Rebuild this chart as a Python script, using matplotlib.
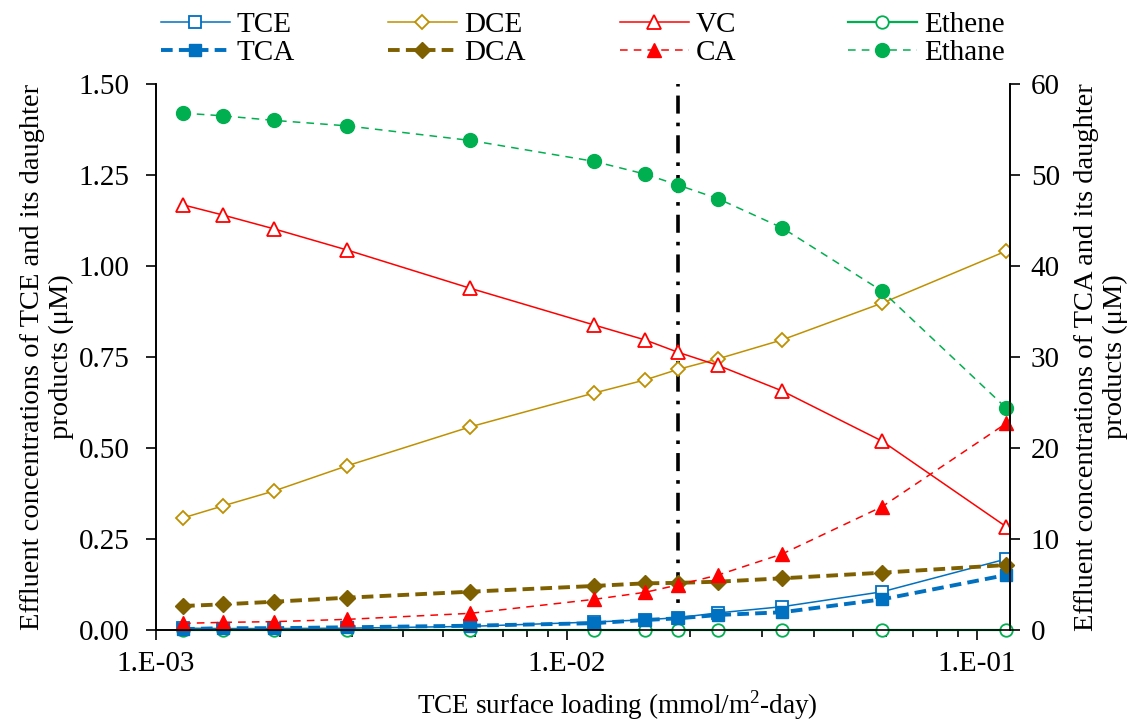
import numpy as np
import matplotlib
matplotlib.use("Agg")
import matplotlib.pyplot as plt
from matplotlib.ticker import LogLocator, FuncFormatter, MultipleLocator, NullFormatter

plt.rcParams["font.family"] = ["Liberation Serif", "DejaVu Serif"]
plt.rcParams["font.size"] = 21
plt.rcParams["mathtext.fontset"] = "custom"
plt.rcParams["mathtext.rm"] = "Liberation Serif"

# surface loading (mmol/m2-day)
loading = [0.001164, 0.001456, 0.001939, 0.002919, 0.00582, 0.01167,
           0.01553, 0.01869, 0.02339, 0.03349, 0.0587, 0.1177]
design_loading = loading[7]

# TCE family, left axis (uM)
tce = [0.005, 0.004, 0.004, 0.005, 0.010, 0.022, 0.028, 0.034, 0.047, 0.064, 0.105, 0.195]
dce = [0.308, 0.341, 0.382, 0.451, 0.558, 0.651, 0.687, 0.716, 0.745, 0.797, 0.898, 1.041]
vc = [1.168, 1.140, 1.102, 1.044, 0.939, 0.838, 0.797, 0.763, 0.727, 0.657, 0.519, 0.284]
ethene = [0.0] * 12

# TCA family, right axis (uM)
tca = [0.1, 0.2, 0.2, 0.3, 0.47, 0.75, 1.1, 1.28, 1.65, 1.95, 3.37, 6.04]
dca = [2.64, 2.82, 3.11, 3.55, 4.21, 4.84, 5.13, 5.18, 5.31, 5.68, 6.30, 7.14]
ca = [0.73, 0.84, 0.92, 1.17, 1.83, 3.37, 4.14, 4.95, 6.04, 8.35, 13.55, 22.7]
ethane = [56.8, 56.5, 56.0, 55.4, 53.8, 51.5, 50.1, 48.9, 47.4, 44.2, 37.25, 24.4]

blue = "#0070C0"
gold = "#BF9000"
brown = "#7F6000"
red = "#FF0000"
green = "#00B050"

fig = plt.figure(figsize=(11.37, 7.21), dpi=100)
ax = fig.add_axes([0.1372, 0.1262, 0.7511, 0.7573])
ax2 = ax.twinx()

l_tce, = ax.plot(loading, tce, color=blue, lw=1.1, marker="s", ms=8.5, mfc="white", mew=1.3,
                 label="TCE")
l_dce, = ax.plot(loading, dce, color=gold, lw=1.1, marker="D", ms=7, mfc="white", mew=1.3,
                 label="DCE")
l_vc, = ax.plot(loading, vc, color=red, lw=1.1, marker="^", ms=9.5, mfc="white", mew=1.3,
                label="VC")
l_ethene, = ax.plot(loading, ethene, color=green, lw=1.6, marker="o", ms=9, mfc="white", mew=1.3,
                    label="Ethene", clip_on=False, zorder=3)

l_tca, = ax2.plot(loading, tca, color=blue, lw=2.8, ls=(0, (3, 1.6)), marker="s", ms=9,
                  label="TCA", clip_on=False)
l_dca, = ax2.plot(loading, dca, color=brown, lw=2.8, ls=(0, (3, 1.6)), marker="D", ms=8,
                  label="DCA", clip_on=False)
l_ca, = ax2.plot(loading, ca, color=red, lw=1.1, ls=(0, (5, 4)), marker="^", ms=10,
                 label="CA", clip_on=False)
l_ethane, = ax2.plot(loading, ethane, color=green, lw=1.1, ls=(0, (5, 4)), marker="o", ms=10,
                     label="Ethane", clip_on=False)

ax.axvline(design_loading, color="black", lw=2.6, ls=(0, (5, 2.5, 1, 2.5)), zorder=1)

ax.set_xscale("log")
ax.set_xlim(1e-3, 0.1203)
ax.set_ylim(0, 1.5)
ax2.set_ylim(0, 60)
ax.yaxis.set_major_locator(MultipleLocator(0.25))
ax.yaxis.set_major_formatter(FuncFormatter(lambda v, p: f"{v:.2f}"))
ax2.yaxis.set_major_locator(MultipleLocator(10))
ax.xaxis.set_major_locator(LogLocator(base=10))
ax.xaxis.set_minor_locator(LogLocator(base=10, subs=np.arange(2, 10)))
ax.xaxis.set_minor_formatter(NullFormatter())
ax.xaxis.set_major_formatter(FuncFormatter(lambda v, p: f"1.E{int(round(np.log10(v))):03d}"))

for a in (ax, ax2):
    a.spines["top"].set_visible(False)
    for s in ("left", "right", "bottom"):
        a.spines[s].set_linewidth(1.2)
    a.tick_params(which="major", direction="out", length=7, width=1.2, labelsize=21)
    a.tick_params(which="minor", direction="out", length=5, width=1.2)
ax.tick_params(axis="x", pad=8)
ax.tick_params(axis="y", pad=12)
ax2.tick_params(axis="y", pad=8)

ax.set_xlabel("TCE surface loading (mmol/m$^{2}$-day)", fontsize=19.5)
ax.xaxis.set_label_coords(0.54, -0.138)
ax.xaxis.label.set_verticalalignment("center")
ax.set_ylabel("Effluent concentrations of TCE and its daughter\nproducts (\u03bcM)",
              fontsize=20.5, labelpad=3, linespacing=1.2)
ax2.set_ylabel("Effluent concentrations of TCA and its daughter\nproducts (\u03bcM)",
               fontsize=20.5, labelpad=10, linespacing=1.2, rotation=90)

# one two-row legend column per compound pair
columns = [(l_tce, l_tca), (l_dce, l_dca), (l_vc, l_ca), (l_ethene, l_ethane)]
col_x = [161, 388, 620, 848]
for (top, bottom), x0 in zip(columns, col_x):
    fig.legend([top, bottom], [top.get_label(), bottom.get_label()],
               loc="center left", bbox_to_anchor=(x0 / 1137, 1 - 39 / 721),
               frameon=False, fontsize=21, handlelength=2.35, handletextpad=0.25,
               labelspacing=0.05, borderpad=0, borderaxespad=0)

fig.savefig("out.png", dpi=100)
